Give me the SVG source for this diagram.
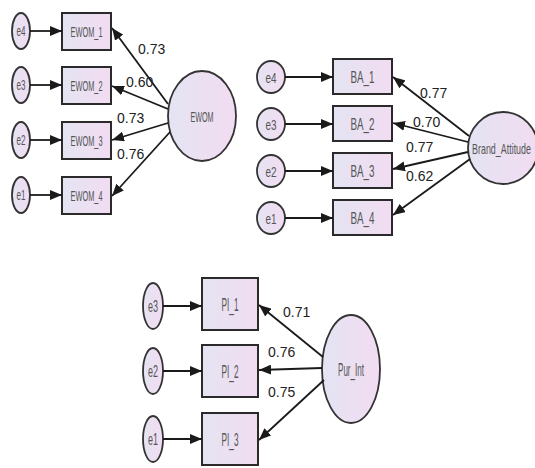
<svg xmlns="http://www.w3.org/2000/svg" width="535" height="468" viewBox="0 0 535 468">
  <defs>
    <linearGradient id="fillGrad" x1="0" y1="0" x2="1" y2="0">
      <stop offset="0" stop-color="#e4e4f3"/>
      <stop offset="1" stop-color="#f2dcf1"/>
    </linearGradient>
    <marker id="arrow" markerUnits="userSpaceOnUse" markerWidth="12" markerHeight="10" refX="12" refY="5" orient="auto">
      <path d="M0,0 L12,5 L0,10 z" fill="#1a1a1a"/>
    </marker>
  </defs>
  <style>
    .box { fill: url(#fillGrad); stroke: #2a2a2a; stroke-width: 2; }
    .err { fill: url(#fillGrad); stroke: #333; stroke-width: 1.8; }
    .lat { fill: url(#fillGrad); stroke: #333; stroke-width: 1.8; }
    .lbl { font-family: "Liberation Sans", Arial, sans-serif; fill: #555; text-anchor: middle; }
    .coef { font-family: "Liberation Sans", Arial, sans-serif; font-size: 14px; fill: #222; }
    .link { stroke: #1a1a1a; stroke-width: 1.8; fill: none; marker-end: url(#arrow); }
  </style>
  <rect width="535" height="468" fill="#ffffff"/>

  <!-- EWOM measurement model -->
  <g id="e4_a"><ellipse class="err" cx="21" cy="31" rx="9" ry="18"/><text class="lbl" x="21" y="36" font-size="14" textLength="9" lengthAdjust="spacingAndGlyphs">e4</text></g>
  <g id="e3_a"><ellipse class="err" cx="21" cy="85" rx="9" ry="18"/><text class="lbl" x="21" y="90" font-size="14" textLength="9" lengthAdjust="spacingAndGlyphs">e3</text></g>
  <g id="e2_a"><ellipse class="err" cx="21" cy="140" rx="9" ry="18"/><text class="lbl" x="21" y="145" font-size="14" textLength="9" lengthAdjust="spacingAndGlyphs">e2</text></g>
  <g id="e1_a"><ellipse class="err" cx="21" cy="195" rx="9" ry="18"/><text class="lbl" x="21" y="200" font-size="14" textLength="9" lengthAdjust="spacingAndGlyphs">e1</text></g>
  <g id="EWOM_1"><rect class="box" x="62" y="13" width="49" height="37"/><text class="lbl" x="86.5" y="37" font-size="15" textLength="32" lengthAdjust="spacingAndGlyphs">EWOM_1</text></g>
  <g id="EWOM_2"><rect class="box" x="62" y="67" width="49" height="37"/><text class="lbl" x="86.5" y="91" font-size="15" textLength="32" lengthAdjust="spacingAndGlyphs">EWOM_2</text></g>
  <g id="EWOM_3"><rect class="box" x="62" y="122" width="49" height="37"/><text class="lbl" x="86.5" y="146" font-size="15" textLength="32" lengthAdjust="spacingAndGlyphs">EWOM_3</text></g>
  <g id="EWOM_4"><rect class="box" x="62" y="177" width="49" height="37"/><text class="lbl" x="86.5" y="201" font-size="15" textLength="32" lengthAdjust="spacingAndGlyphs">EWOM_4</text></g>
  <g id="EWOM"><ellipse class="lat" cx="202" cy="116" rx="34" ry="45"/><text class="lbl" x="202" y="121.5" font-size="15" textLength="23" lengthAdjust="spacingAndGlyphs">EWOM</text></g>

  <!-- Brand attitude measurement model -->
  <g id="e4_b"><ellipse class="err" cx="271" cy="77" rx="14" ry="16"/><text class="lbl" x="271" y="82.5" font-size="15" textLength="11" lengthAdjust="spacingAndGlyphs">e4</text></g>
  <g id="e3_b"><ellipse class="err" cx="271" cy="124" rx="14" ry="16"/><text class="lbl" x="271" y="129.5" font-size="15" textLength="11" lengthAdjust="spacingAndGlyphs">e3</text></g>
  <g id="e2_b"><ellipse class="err" cx="271" cy="171" rx="14" ry="16"/><text class="lbl" x="271" y="176.5" font-size="15" textLength="11" lengthAdjust="spacingAndGlyphs">e2</text></g>
  <g id="e1_b"><ellipse class="err" cx="271" cy="218" rx="14" ry="16"/><text class="lbl" x="271" y="223.5" font-size="15" textLength="11" lengthAdjust="spacingAndGlyphs">e1</text></g>
  <g id="BA_1"><rect class="box" x="333" y="59" width="59" height="35"/><text class="lbl" x="362.5" y="82.5" font-size="16" textLength="24" lengthAdjust="spacingAndGlyphs">BA_1</text></g>
  <g id="BA_2"><rect class="box" x="333" y="106" width="59" height="35"/><text class="lbl" x="362.5" y="129.5" font-size="16" textLength="24" lengthAdjust="spacingAndGlyphs">BA_2</text></g>
  <g id="BA_3"><rect class="box" x="333" y="153" width="59" height="35"/><text class="lbl" x="362.5" y="176.5" font-size="16" textLength="24" lengthAdjust="spacingAndGlyphs">BA_3</text></g>
  <g id="BA_4"><rect class="box" x="333" y="200" width="59" height="35"/><text class="lbl" x="362.5" y="223.5" font-size="16" textLength="24" lengthAdjust="spacingAndGlyphs">BA_4</text></g>
  <g id="Brand_Attitude"><ellipse class="lat" cx="503" cy="148" rx="35" ry="36"/><text class="lbl" x="472" y="153.5" font-size="15" style="text-anchor:start" textLength="59" lengthAdjust="spacingAndGlyphs">Brand_Attitude</text></g>

  <!-- Purchase intention measurement model -->
  <g id="e3_c"><ellipse class="err" cx="153" cy="306" rx="10" ry="23"/><text class="lbl" x="153" y="312" font-size="17" textLength="10" lengthAdjust="spacingAndGlyphs">e3</text></g>
  <g id="e2_c"><ellipse class="err" cx="153" cy="371" rx="10" ry="23"/><text class="lbl" x="153" y="377" font-size="17" textLength="10" lengthAdjust="spacingAndGlyphs">e2</text></g>
  <g id="e1_c"><ellipse class="err" cx="153" cy="439" rx="10" ry="23"/><text class="lbl" x="153" y="445" font-size="17" textLength="10" lengthAdjust="spacingAndGlyphs">e1</text></g>
  <g id="PI_1"><rect class="box" x="202" y="278" width="56" height="52"/><text class="lbl" x="230" y="311" font-size="19" textLength="17" lengthAdjust="spacingAndGlyphs">PI_1</text></g>
  <g id="PI_2"><rect class="box" x="202" y="345" width="56" height="52"/><text class="lbl" x="230" y="378" font-size="19" textLength="17" lengthAdjust="spacingAndGlyphs">PI_2</text></g>
  <g id="PI_3"><rect class="box" x="202" y="413" width="56" height="52"/><text class="lbl" x="230" y="446" font-size="19" textLength="17" lengthAdjust="spacingAndGlyphs">PI_3</text></g>
  <g id="Pur_Int"><ellipse class="lat" cx="351" cy="369" rx="29" ry="54"/><text class="lbl" x="351" y="376" font-size="18" textLength="26" lengthAdjust="spacingAndGlyphs">Pur_Int</text></g>

  <!-- Connectors -->
  <g id="connectors">
    <line class="link" x1="30" y1="31" x2="62" y2="31"/>
    <line class="link" x1="30" y1="85" x2="62" y2="85"/>
    <line class="link" x1="30" y1="140" x2="62" y2="140"/>
    <line class="link" x1="30" y1="195" x2="62" y2="195"/>
    <line class="link" x1="168" y1="104" x2="112" y2="28"/>
    <line class="link" x1="168" y1="109" x2="112" y2="86"/>
    <line class="link" x1="168" y1="123" x2="112" y2="140"/>
    <line class="link" x1="170" y1="132" x2="112" y2="196"/>

    <line class="link" x1="285" y1="77" x2="333" y2="77"/>
    <line class="link" x1="285" y1="124" x2="333" y2="124"/>
    <line class="link" x1="285" y1="171" x2="333" y2="171"/>
    <line class="link" x1="285" y1="218" x2="333" y2="218"/>
    <line class="link" x1="469" y1="136" x2="393" y2="77"/>
    <line class="link" x1="468" y1="142" x2="393" y2="123"/>
    <line class="link" x1="468" y1="152" x2="393" y2="169"/>
    <line class="link" x1="470" y1="159" x2="393" y2="215"/>

    <line class="link" x1="163" y1="306" x2="202" y2="306"/>
    <line class="link" x1="163" y1="371" x2="202" y2="371"/>
    <line class="link" x1="163" y1="439" x2="202" y2="439"/>
    <line class="link" x1="323" y1="357" x2="259" y2="305"/>
    <line class="link" x1="322" y1="368" x2="259" y2="370"/>
    <line class="link" x1="324" y1="380" x2="259" y2="440"/>
  </g>

  <!-- Standardised loadings -->
  <g id="loadings">
    <text class="coef" x="138" y="54">0.73</text>
    <text class="coef" x="126" y="87">0.60</text>
    <text class="coef" x="117" y="123">0.73</text>
    <text class="coef" x="117" y="159">0.76</text>
    <text class="coef" x="420" y="98">0.77</text>
    <text class="coef" x="413" y="127">0.70</text>
    <text class="coef" x="406" y="152">0.77</text>
    <text class="coef" x="406" y="181">0.62</text>
    <text class="coef" x="283" y="317">0.71</text>
    <text class="coef" x="268" y="357">0.76</text>
    <text class="coef" x="268" y="397">0.75</text>
  </g>
</svg>
